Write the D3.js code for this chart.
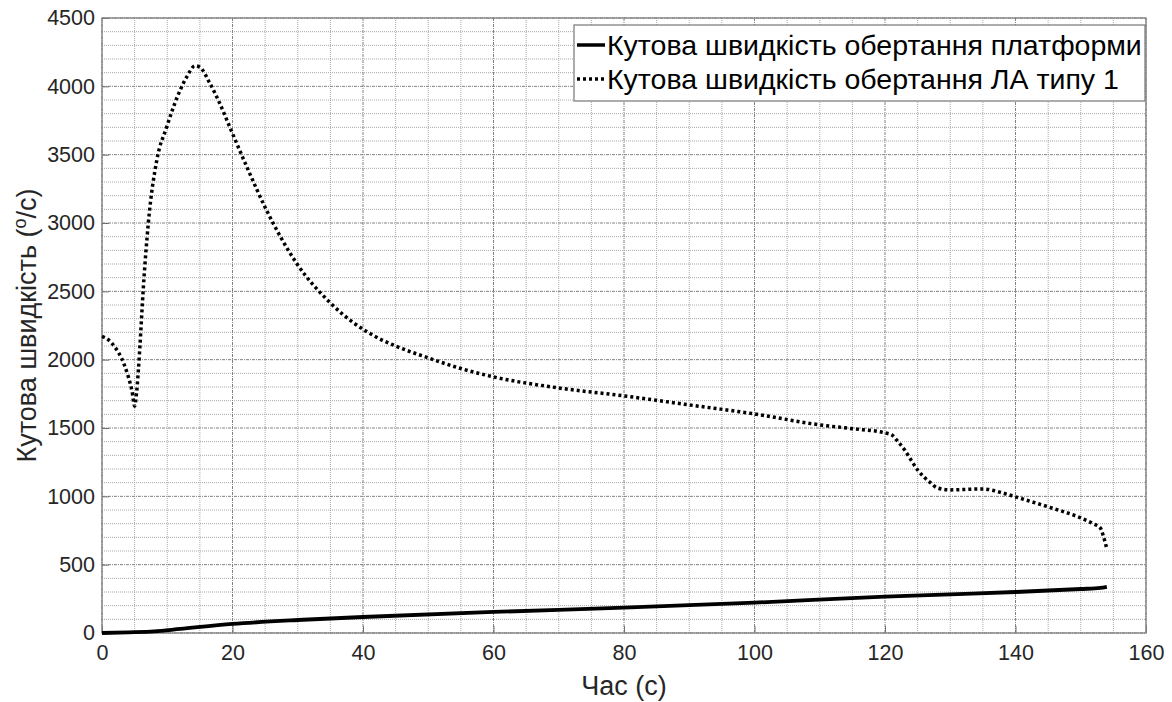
<html lang="uk">
<head>
    <meta charset="UTF-8">
    <title>Кутова швидкість</title>
    <script src="https://cdn.jsdelivr.net/npm/d3@7/dist/d3.min.js" type="text/javascript"></script>
    <style>
        body { margin: 0; background: #fff; }
        text { font-family: "Liberation Sans", Arial, sans-serif; }
    </style>
</head>
<body>
    <svg id="svg"></svg>

    <script>
        var WIDTH = 1172;
        var HEIGHT = 702;
        var MARGIN = {left: 102, right: 26, top: 18, bottom: 69};

        // platform (solid)
        var platformTime  = [0, 4, 8, 12, 20, 30, 40, 60, 80, 100, 120, 130, 140, 150, 153, 154];
        var platformSpeed = [0, 5, 12, 30, 66, 95, 117, 154, 185, 222, 266, 283, 300, 322, 330, 338];

        // aircraft type 1 (dotted)
        var laTime  = [0, 1, 2, 3, 4, 4.6, 5, 5.3, 5.8, 6.3, 7.1, 8.4, 9.9, 12, 13, 14.25, 15, 16.5, 18, 19.6,
                       22.2, 25.2, 29.8, 35, 42, 45, 50, 55, 60, 70, 80, 90, 100, 110, 115, 120, 121,
                       122, 123, 124, 125, 126, 127, 128, 130, 132, 135, 138, 140, 145, 150, 152, 153, 153.5, 154];
        var laSpeed = [2170, 2145, 2090, 2010, 1880, 1770, 1660, 1760, 2090, 2500, 3000, 3460, 3700, 3975, 4070, 4150, 4140, 4025, 3880, 3700,
                       3410, 3095, 2707, 2415, 2166, 2100, 2013, 1935, 1874, 1793, 1735, 1669, 1603, 1523, 1495, 1464, 1450,
                       1400, 1340, 1265, 1193, 1140, 1098, 1062, 1047, 1050, 1054, 1025, 996, 923, 842, 798, 769, 703, 615];

        var xTicks = [0, 20, 40, 60, 80, 100, 120, 140, 160];
        var yTicks = [0, 500, 1000, 1500, 2000, 2500, 3000, 3500, 4000, 4500];
        var legendLabels = ["Кутова швидкість обертання платформи", "Кутова швидкість обертання ЛА типу 1"];

        var svg = d3.select("#svg")
                    .attr("width", WIDTH)
                    .attr("height", HEIGHT);

        var xScale = d3.scaleLinear()
                       .domain([0, 160])
                       .range([MARGIN.left, WIDTH - MARGIN.right]);

        var yScale = d3.scaleLinear()
                       .domain([0, 4500])
                       .range([HEIGHT - MARGIN.bottom, MARGIN.top]);

        var x0 = MARGIN.left, x1 = WIDTH - MARGIN.right;
        var y0 = HEIGHT - MARGIN.bottom, y1 = MARGIN.top;

        // minor grid
        var grid = svg.append("g");
        grid.selectAll("line.mx")
            .data(d3.range(0, 161, 5).filter(function(d){ return d % 20 != 0; }))
            .enter().append("line")
            .attr("x1", function(d){ return xScale(d); })
            .attr("x2", function(d){ return xScale(d); })
            .attr("y1", y0).attr("y2", y1)
            .attr("stroke", "#a8a8a8").attr("stroke-dasharray", "1,1");
        grid.selectAll("line.my")
            .data(d3.range(0, 4501, 100).filter(function(d){ return d % 500 != 0; }))
            .enter().append("line")
            .attr("y1", function(d){ return yScale(d); })
            .attr("y2", function(d){ return yScale(d); })
            .attr("x1", x0).attr("x2", x1)
            .attr("stroke", "#a8a8a8").attr("stroke-dasharray", "1,1");
        // major grid
        grid.selectAll("line.Mx")
            .data(xTicks)
            .enter().append("line")
            .attr("x1", function(d){ return xScale(d); })
            .attr("x2", function(d){ return xScale(d); })
            .attr("y1", y0).attr("y2", y1)
            .attr("stroke", "#808080").attr("stroke-dasharray", "3,1,1,1");
        grid.selectAll("line.My")
            .data(yTicks)
            .enter().append("line")
            .attr("y1", function(d){ return yScale(d); })
            .attr("y2", function(d){ return yScale(d); })
            .attr("x1", x0).attr("x2", x1)
            .attr("stroke", "#808080").attr("stroke-dasharray", "3,1,1,1");

        // axes
        var xAxis = d3.axisBottom(xScale).tickValues(xTicks).tickFormat(d3.format("d"))
                      .tickSizeInner(-7).tickSizeOuter(0).tickPadding(12);
        var yAxis = d3.axisLeft(yScale).tickValues(yTicks).tickFormat(d3.format("d"))
                      .tickSizeInner(-7).tickSizeOuter(0).tickPadding(7);

        var gx = svg.append("g")
           .attr("transform", "translate(0," + y0 + ")")
           .call(xAxis);
        var gy = svg.append("g")
           .attr("transform", "translate(" + x0 + ",0)")
           .call(yAxis);
        [gx, gy].forEach(function(g){
            g.select(".domain").remove();
            g.selectAll("line").attr("stroke", "#707070");
            g.selectAll("text").attr("fill", "#262626").style("font-size", "21.5px");
        });

        // box
        svg.append("rect")
           .attr("x", x0).attr("y", y1)
           .attr("width", x1 - x0).attr("height", y0 - y1)
           .attr("fill", "none").attr("stroke", "#808080").attr("stroke-width", 1.3);

        // lines
        var line = d3.line()
                     .x(function(d){ return xScale(d[0]); })
                     .y(function(d){ return yScale(d[1]); })
                     .curve(d3.curveMonotoneX);

        svg.append("path")
           .datum(platformTime.map(function(t, i){ return [t, platformSpeed[i]]; }))
           .attr("d", line)
           .attr("fill", "none").attr("stroke", "#000").attr("stroke-width", 3.8);

        svg.append("path")
           .datum(laTime.map(function(t, i){ return [t, laSpeed[i]]; }))
           .attr("d", line)
           .attr("fill", "none").attr("stroke", "#000").attr("stroke-width", 3.5)
           .attr("stroke-dasharray", "3,3");

        // axis titles
        svg.append("text")
           .attr("x", (x0 + x1) / 2).attr("y", 695)
           .attr("text-anchor", "middle")
           .attr("fill", "#262626").style("font-size", "27px")
           .text("Час (с)");

        var yt = svg.append("text")
           .attr("transform", "translate(36," + ((y0 + y1) / 2) + ") rotate(-90)")
           .attr("text-anchor", "middle")
           .attr("fill", "#262626").style("font-size", "27px");
        yt.append("tspan").text("Кутова швидкість (");
        yt.append("tspan").attr("dy", -10).style("font-size", "18px").text("o");
        yt.append("tspan").attr("dy", 10).text("/с)");

        // legend
        var lg = svg.append("g");
        lg.append("rect")
          .attr("x", 574).attr("y", 25).attr("width", 571).attr("height", 76)
          .attr("fill", "#fff").attr("stroke", "#808080").attr("stroke-width", 1.3);
        legendLabels.forEach(function(label, i){
            var ly = 45 + i * 34;
            lg.append("line")
              .attr("x1", 577).attr("x2", 605).attr("y1", ly).attr("y2", ly)
              .attr("stroke", "#000").attr("stroke-width", 3.5)
              .attr("stroke-dasharray", i == 0 ? null : "3,3");
            lg.append("text")
              .attr("x", 607).attr("y", ly + 10)
              .attr("fill", "#000").style("font-size", "28.5px")
              .text(label);
        });
    </script>
</body>
</html>
